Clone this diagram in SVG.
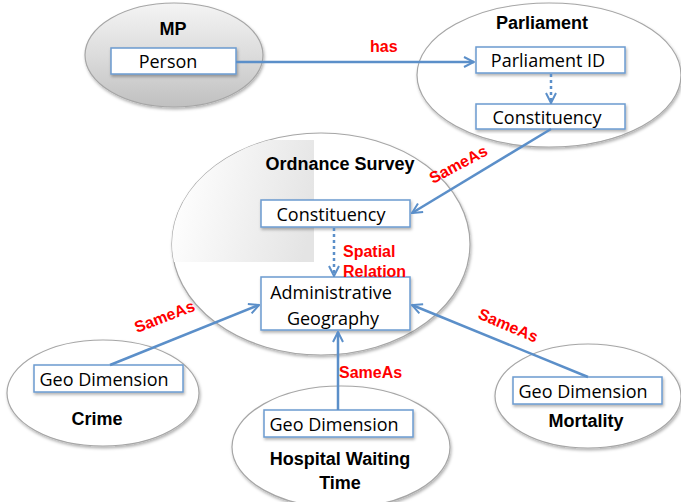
<svg xmlns="http://www.w3.org/2000/svg" width="681" height="502" viewBox="0 0 681 502">
  <defs>
    <linearGradient id="mpFill" x1="0" y1="0" x2="0" y2="1">
      <stop offset="0" stop-color="#f4f4f4"/>
      <stop offset="0.5" stop-color="#dcdcdc"/>
      <stop offset="1" stop-color="#c0c0c0"/>
    </linearGradient>
    <linearGradient id="osShade" x1="1" y1="0.6" x2="0" y2="0.4">
      <stop offset="0" stop-color="#e4e4e4"/>
      <stop offset="1" stop-color="#ffffff"/>
    </linearGradient>
    <clipPath id="osClip">
      <ellipse cx="321" cy="244" rx="149" ry="111"/>
    </clipPath>
    <filter id="shadow" x="-10%" y="-10%" width="125%" height="130%">
      <feDropShadow dx="1" dy="2" stdDeviation="1.5" flood-color="#000" flood-opacity="0.3"/>
    </filter>
    <marker id="arrow" viewBox="0 0 12 12" refX="11" refY="6" markerWidth="12" markerHeight="12" markerUnits="userSpaceOnUse" orient="auto">
      <path d="M1,1 L11,6 L1,11" fill="none" stroke="#5b8fc9" stroke-width="2"/>
    </marker>
  </defs>
  <style>
    .cloud { fill: #ffffff; stroke: #a6a6a6; stroke-width: 1.2; filter: url(#shadow); }
    .box { fill: #ffffff; stroke: #6b9bd0; stroke-width: 1.5; filter: url(#shadow); }
    .boxtxt { font-family: "Open Sans", "Noto Sans", sans-serif; font-size: 18px; fill: #000; text-anchor: middle; }
    .title { font-family: "Liberation Sans", Arial, sans-serif; font-weight: bold; font-size: 18px; fill: #000; text-anchor: middle; }
    .rel { font-family: "Liberation Sans", Arial, sans-serif; font-weight: bold; font-size: 16px; fill: #ff0000; }
    .link { fill: none; stroke: #5b8fc9; stroke-width: 2.5; marker-end: url(#arrow); }
    .dash { fill: none; stroke: #5b8fc9; stroke-width: 2.5; stroke-dasharray: 3 3; marker-end: url(#arrow); }
  </style>

  <!-- MP -->
  <g id="mp">
    <ellipse cx="174" cy="55" rx="89" ry="52" fill="url(#mpFill)" stroke="#a6a6a6" stroke-width="1.2" filter="url(#shadow)"/>
    <text class="title" x="173" y="35">MP</text>
    <rect class="box" x="111" y="48" width="125" height="26"/>
    <text class="boxtxt" x="168" y="68">Person</text>
  </g>

  <!-- Parliament -->
  <g id="parliament">
    <ellipse class="cloud" cx="549" cy="75" rx="132" ry="72"/>
    <text class="title" x="542" y="29">Parliament</text>
    <rect class="box" x="476" y="47" width="149" height="26"/>
    <text class="boxtxt" x="548" y="67">Parliament ID</text>
    <rect class="box" x="476" y="104" width="149" height="25"/>
    <text class="boxtxt" x="547" y="124">Constituency</text>
  </g>

  <!-- Ordnance Survey -->
  <g id="ordnance-survey">
    <ellipse class="cloud" cx="321" cy="244" rx="149" ry="111"/>
    <rect x="172" y="140" width="142" height="122" fill="url(#osShade)" clip-path="url(#osClip)"/>
    <text class="title" x="340" y="170">Ordnance Survey</text>
    <rect class="box" x="261" y="200" width="149" height="27"/>
    <text class="boxtxt" x="331" y="221">Constituency</text>
    <rect class="box" x="261" y="277" width="149" height="53"/>
    <text class="boxtxt" x="331" y="299">Administrative</text>
    <text class="boxtxt" x="333" y="325">Geography</text>
  </g>

  <!-- Crime -->
  <g id="crime">
    <ellipse class="cloud" cx="103" cy="393" rx="96" ry="53"/>
    <rect class="box" x="34" y="365" width="149" height="27"/>
    <text class="boxtxt" x="104" y="386">Geo Dimension</text>
    <text class="title" x="97" y="425">Crime</text>
  </g>

  <!-- Hospital Waiting Time -->
  <g id="hospital">
    <ellipse class="cloud" cx="341" cy="447" rx="109" ry="61"/>
    <rect class="box" x="264" y="410" width="149" height="27"/>
    <text class="boxtxt" x="334" y="431">Geo Dimension</text>
    <text class="title" x="340" y="465">Hospital Waiting</text>
    <text class="title" x="340" y="489">Time</text>
  </g>

  <!-- Mortality -->
  <g id="mortality">
    <ellipse class="cloud" cx="588" cy="396" rx="93" ry="52"/>
    <rect class="box" x="513" y="377" width="149" height="27"/>
    <text class="boxtxt" x="583" y="398">Geo Dimension</text>
    <text class="title" x="586" y="427">Mortality</text>
  </g>

  <!-- Connectors -->
  <g id="connectors">
    <line class="link" x1="236" y1="62" x2="474" y2="62"/>
    <line class="dash" x1="551" y1="74" x2="551" y2="103"/>
    <line class="link" x1="551" y1="129" x2="412" y2="213"/>
    <line class="dash" x1="334" y1="228" x2="334" y2="276"/>
    <line class="link" x1="110" y1="365" x2="259" y2="305"/>
    <line class="link" x1="338" y1="410" x2="338" y2="332"/>
    <line class="link" x1="588" y1="377" x2="412" y2="305"/>

    <text class="rel" x="370" y="52">has</text>
    <text class="rel" transform="translate(433,184) rotate(-28)">SameAs</text>
    <text class="rel" x="343" y="257">Spatial</text>
    <text class="rel" x="343" y="277">Relation</text>
    <text class="rel" transform="translate(137,333) rotate(-21)">SameAs</text>
    <text class="rel" x="339" y="378">SameAs</text>
    <text class="rel" transform="translate(477,318) rotate(23)">SameAs</text>
  </g>
</svg>
